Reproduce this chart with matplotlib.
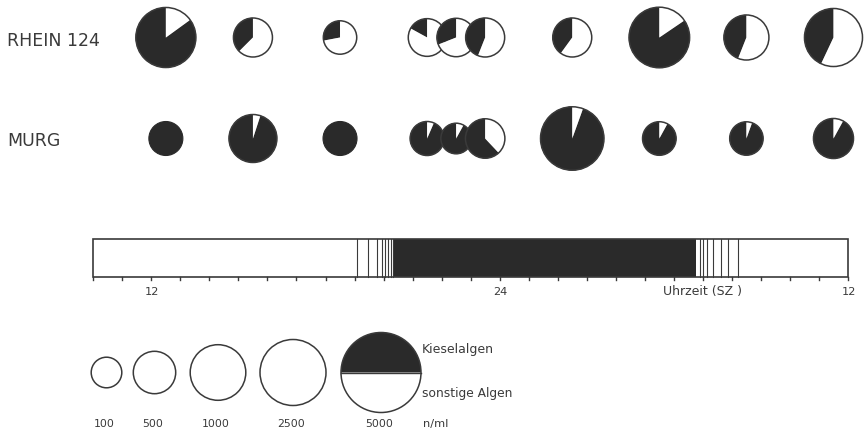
import numpy as np
import matplotlib
matplotlib.use("Agg")
import matplotlib.pyplot as plt
from matplotlib.patches import Wedge, Circle, Rectangle

# ---------------- data ----------------
sample_hours = [12.5, 15.5, 18.5, 21.5, 22.5, 23.5, 26.5, 29.5, 32.5, 35.5]
rhein_total = [1640, 385, 195, 340, 365, 385, 385, 1720, 600, 1350]      # n/ml
rhein_kiesel_frac = [0.85, 0.375, 0.28, 0.17, 0.31, 0.44, 0.40, 0.845, 0.44, 0.43]
murg_total = [215, 710, 215, 215, 100, 400, 2130, 200, 195, 420]
murg_kiesel_frac = [1.0, 0.95, 1.0, 0.935, 0.92, 0.62, 0.945, 0.92, 0.945, 0.92]
row_labels = ["RHEIN 124", "MURG"]

legend_values = [100, 500, 1000, 2500, 5000]
legend_labels = ["100", "500", "1000", "2500", "5000"]

axis_start, axis_end = 10, 36
tick_label_hours = [12, 24, 36]
tick_label_text = ["12", "24", "12"]
dark_start, dark_end = 20.36, 30.78
dusk_lines = [19.09, 19.47, 19.76, 19.93, 20.05, 20.16, 20.24, 20.31]
dawn_lines = [30.90, 31.01, 31.13, 31.36, 31.61, 31.87, 32.22]

# ---------------- style / layout ----------------
W, H = 864, 434
DARK = "#2a2a2a"
EDGE = "#3a3a3a"
TXT = "#3a3a3a"
size_scale_radii = [15.3, 21.2, 27.8, 33.0, 40.0]   # radius (px) for legend_values
bar_left_px, bar_right_px = 93.3, 848.0
bar_top, bar_bot = 238.5, 277.0
row_y = [37.5, 138.5]

fig = plt.figure(figsize=(W / 100, H / 100), dpi=100)
ax = fig.add_axes([0, 0, 1, 1])
ax.set_xlim(0, W)
ax.set_ylim(0, H)
ax.axis("off")

def Y(py):
    return H - py

def hx(h):
    return bar_left_px + (h - axis_start) * (bar_right_px - bar_left_px) / (axis_end - axis_start)

def radius(n):
    return float(np.interp(n, legend_values, size_scale_radii))

def draw_pie(cx, cy, r, frac, z):
    if frac >= 0.999:
        ax.add_patch(Circle((cx, cy), r, facecolor=DARK, edgecolor=DARK, lw=0.8, zorder=z))
        return
    # black (Kieselalgen) from 12 o'clock counter-clockwise
    ax.add_patch(Wedge((cx, cy), r, 90, 90 + frac * 360, facecolor=DARK,
                       edgecolor=DARK, lw=0.3, zorder=z))
    ax.add_patch(Wedge((cx, cy), r, 90 + frac * 360, 450, facecolor="white",
                       edgecolor="none", lw=0, zorder=z))
    ax.add_patch(Circle((cx, cy), r, facecolor="none", edgecolor=EDGE, lw=1.1, zorder=z + 0.5))

for ri, (tot, fr) in enumerate([(rhein_total, rhein_kiesel_frac), (murg_total, murg_kiesel_frac)]):
    for i, (h, n, f) in enumerate(zip(sample_hours, tot, fr)):
        draw_pie(hx(h), Y(row_y[ri]), radius(n), f, 2 + i)
    ax.text(7, Y(row_y[ri] + 3), row_labels[ri], fontsize=12.5, color=TXT,
            ha="left", va="center", family="DejaVu Sans")

# ---------------- time bar ----------------
ax.add_patch(Rectangle((hx(dark_start), Y(bar_bot)), hx(dark_end) - hx(dark_start),
                       bar_bot - bar_top, facecolor=DARK, edgecolor="none", zorder=2))
for h in dusk_lines + dawn_lines:
    ax.plot([hx(h), hx(h)], [Y(bar_top), Y(bar_bot)], color=EDGE, lw=0.8, zorder=3)
ax.add_patch(Rectangle((hx(axis_start), Y(bar_bot)), hx(axis_end) - hx(axis_start),
                       bar_bot - bar_top, facecolor="none", edgecolor=EDGE, lw=1.2, zorder=4))
for h in range(axis_start, axis_end + 1):
    ax.plot([hx(h), hx(h)], [Y(bar_bot), Y(bar_bot + 2.5)], color=EDGE, lw=1.0, zorder=4)
for h, t in zip(tick_label_hours, tick_label_text):
    ax.text(hx(h) + 1, Y(292), t, fontsize=8.2, color=TXT, ha="center", va="center")
ax.text(hx(31.0), Y(292), "Uhrzeit (SZ )", fontsize=9.0, color=TXT, ha="center", va="center")

# ---------------- size legend ----------------
legend_x = [106.5, 154.5, 218.0, 293.0, 381.0]
legend_cy = 372.5
for i, (v, lab) in enumerate(zip(legend_values, legend_labels)):
    r = radius(v)
    if i == len(legend_values) - 1:
        ax.add_patch(Wedge((legend_x[i], Y(legend_cy)), r, 0, 180, facecolor=DARK,
                           edgecolor="none", zorder=2))
        ax.plot([legend_x[i] - r, legend_x[i] + r], [Y(legend_cy)] * 2, color=EDGE, lw=1.0, zorder=3)
    ax.add_patch(Circle((legend_x[i], Y(legend_cy)), r, facecolor="none",
                        edgecolor=EDGE, lw=1.1, zorder=3))
    ax.text(legend_x[i] - 2, Y(424), lab, fontsize=7.8, color=TXT, ha="center", va="center")
ax.text(423, Y(424), "n/ml", fontsize=8.2, color=TXT, ha="left", va="center")
ax.text(422, Y(349), "Kieselalgen", fontsize=9.0, color=TXT, ha="left", va="center")
ax.text(422, Y(393), "sonstige Algen", fontsize=8.8, color=TXT, ha="left", va="center")

fig.savefig("out.png", dpi=100, facecolor="white")
